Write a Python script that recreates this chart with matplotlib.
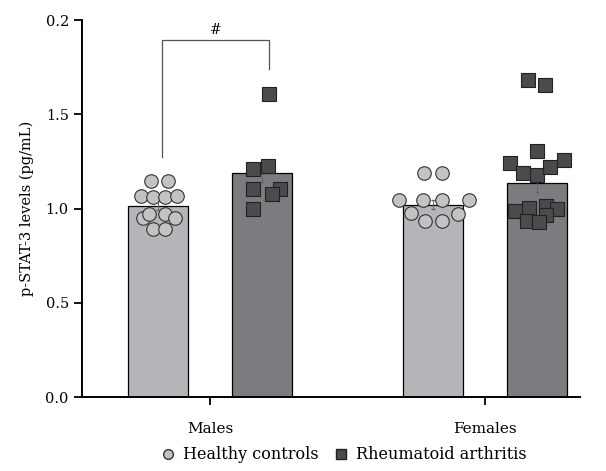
import numpy as np
import matplotlib
matplotlib.use('Agg')
import matplotlib.pyplot as plt
from matplotlib.lines import Line2D

plt.rcParams['font.family'] = 'DejaVu Serif'

groups = ["Males", "Females"]
tick_labels = ["0.0", "0.5", "1.0", "1.5", "0.2"]

# bar means
hc_means = [1.015, 1.02]
ra_means = [1.19, 1.135]
hc_sem = [0.025, 0.025]
ra_sem = [0.05, 0.045]

# individual points (pg/mL)
hc_males = [1.146, 1.146, 1.064, 1.059, 1.059, 1.064, 0.951, 0.971, 0.971, 0.951, 0.89, 0.89]
hc_males_dx = [-0.213, -0.152, -0.249, -0.206, -0.164, -0.121, -0.245, -0.221, -0.164, -0.127, -0.206, -0.164]
ra_males = [1.607, 1.208, 1.225, 1.102, 1.102, 1.077, 0.996]
ra_males_dx = [0.216, 0.157, 0.212, 0.157, 0.255, 0.224, 0.157]
hc_females = [1.187, 1.187, 1.045, 1.045, 1.045, 1.045, 0.974, 0.969, 0.934, 0.934]
hc_females_dx = [-0.222, -0.158, -0.312, -0.224, -0.155, -0.058, -0.27, -0.097, -0.218, -0.155]
ra_females = [1.682, 1.655, 1.305, 1.239, 1.191, 1.178, 1.222, 1.257,
              0.987, 1.004, 1.016, 0.995, 0.966, 0.934, 0.926]
ra_females_dx = [0.157, 0.218, 0.188, 0.091, 0.139, 0.188, 0.236, 0.287,
                 0.109, 0.16, 0.221, 0.261, 0.221, 0.154, 0.197]

hc_bar = '#b3b5b8'
ra_bar = '#7b7c7f'
hc_pt = '#c3c3c5'
ra_pt = '#4b4b4e'

fig = plt.figure(figsize=(6.06, 4.71), dpi=100)
ax = fig.add_axes([0.1353, 0.157, 0.8217, 0.8005])

x = np.arange(len(groups))
off = 0.19
w = 0.218

ax.bar(x - off, hc_means, w, color=hc_bar, edgecolor='black', linewidth=0.9, zorder=1)
ax.bar(x + off, ra_means, w, color=ra_bar, edgecolor='black', linewidth=0.9, zorder=1)
ax.errorbar(x - off, hc_means, yerr=hc_sem, fmt='none', ecolor='#666666', elinewidth=0.7, capsize=1.5, zorder=1.5)
ax.errorbar(x + off, ra_means, yerr=ra_sem, fmt='none', ecolor='#666666', elinewidth=0.7, capsize=1.5, zorder=1.5)

ax.scatter(x[0] + np.array(hc_males_dx), hc_males, s=95, marker='o', color=hc_pt, edgecolor='#333333', linewidth=0.8, zorder=3)
ax.scatter(x[1] + np.array(hc_females_dx), hc_females, s=95, marker='o', color=hc_pt, edgecolor='#333333', linewidth=0.8, zorder=3)
ax.scatter(x[0] + np.array(ra_males_dx), ra_males, s=90, marker='s', color=ra_pt, edgecolor='#222222', linewidth=0.8, zorder=3)
ax.scatter(x[1] + np.array(ra_females_dx), ra_females, s=90, marker='s', color=ra_pt, edgecolor='#222222', linewidth=0.8, zorder=3)

# significance bracket
ax.plot([-0.175, -0.175, 0.214, 0.214], [1.275, 1.894, 1.894, 1.74], color='#555555', lw=0.9)
ax.text(0.02, 1.91, '#', ha='center', va='bottom', fontsize=10)

ax.set_xlim(-0.465, 1.345)
ax.set_ylim(0, 2.0)
ax.set_yticks([0, 0.5, 1.0, 1.5, 2.0])
ax.set_yticklabels(tick_labels, fontsize=10.5)
ax.set_xticks(x)
ax.set_xticklabels(groups, fontsize=11)
ax.tick_params(axis='x', length=6, width=1.3, pad=12)
ax.tick_params(axis='y', length=6, width=1.3)
ax.set_ylabel('p-STAT-3 levels (pg/mL)', fontsize=10.5, labelpad=8)
for s in ['top', 'right']:
    ax.spines[s].set_visible(False)
for s in ['left', 'bottom']:
    ax.spines[s].set_linewidth(1.4)

handles = [
    Line2D([], [], marker='o', ls='none', markersize=7, markerfacecolor=hc_pt, markeredgecolor='#333333', label='Healthy controls'),
    Line2D([], [], marker='s', ls='none', markersize=7, markerfacecolor=ra_pt, markeredgecolor='#222222', label='Rheumatoid arthritis'),
]
fig.legend(handles=handles, loc='center', bbox_to_anchor=(0.567, 0.034), ncol=2, frameon=False,
           fontsize=11.5, handletextpad=0.45, columnspacing=0.9, handlelength=1.0)

fig.savefig('out.png', dpi=100)
